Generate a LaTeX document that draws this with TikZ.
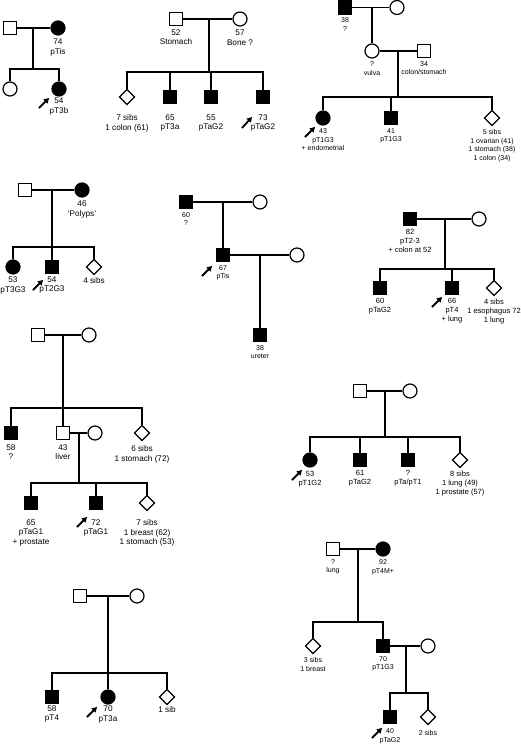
\documentclass[tikz,border=0pt]{standalone}
\usepackage{fontspec}
\setmainfont{Liberation Sans}
\usetikzlibrary{shapes.geometric, arrows.meta, calc}

\begin{document}
\begin{tikzpicture}[
    x=1pt, y=-1pt,
    male/.style={rectangle, draw, line width=1.2pt, fill=white, inner sep=0pt, minimum size=13.5pt},
    female/.style={circle, draw, line width=1.2pt, fill=white, inner sep=0pt, minimum size=14pt},
    sibs/.style={diamond, aspect=1, draw, line width=1.2pt, fill=white, inner sep=0pt, minimum size=15.5pt},
    aff/.style={fill=black},
    lbl/.style={align=center, inner sep=0.5pt, font=\fontsize{8.2}{9.6}\selectfont},
    label distance=2.5pt,
    conn/.style={line width=1.1pt},
    proband/.style={-{Triangle[length=5pt, width=5.5pt]}, line width=1.8pt}
    ]
    \useasboundingbox (0,0) rectangle (520,745);

    % Pedigree 1
    \node[male] (p1f) at (10,28) {};
    \node[female, aff, label={[lbl]below:{74\\pTis}}] (p1w) at (58,28) {};
    \node[female] (p1a) at (10,89) {};
    \node[female, aff, label={[lbl, yshift=2pt]below:{54\\pT3b}}] (p1b) at (59,89) {};
    \coordinate (p1m) at (33,28);
    \coordinate (p1s) at (33,69);
    \draw[conn] (p1f) -- (p1w);
    \draw[conn] (p1m) -- (p1s);
    \draw[conn] (p1a.north) |- (p1s) -| (p1b.north);
    \draw[proband] ($(p1b)+(-20,19)$) -- ++(10,-10);

    % Pedigree 2
    \node[male, label={[lbl]below:{52\\Stomach}}] (p2f) at (176,19) {};
    \node[female, label={[lbl]below:{57\\Bone ?}}] (p2w) at (240,19) {};
    \node[sibs, label={[lbl, yshift=-6pt]below:{7 sibs\\1 colon (61)}}] (p2a) at (127,97) {};
    \node[male, aff, label={[lbl, yshift=-7pt]below:{65\\pT3a}}] (p2b) at (170,97) {};
    \node[male, aff, label={[lbl, yshift=-7pt]below:{55\\pTaG2}}] (p2c) at (211,97) {};
    \node[male, aff, label={[lbl, yshift=-7pt]below:{73\\pTaG2}}] (p2d) at (263,97) {};
    \coordinate (p2m) at (209,19);
    \coordinate (p2s) at (209,72);
    \draw[conn] (p2f) -- (p2w);
    \draw[conn] (p2m) -- (p2s);
    \draw[conn] (p2a.north) |- (p2s) -| (p2d.north);
    \foreach \kid in {p2b, p2c} {
        \draw[conn] (\kid.north) -- (\kid.north |- p2s);
      }
    \draw[proband] ($(p2d)+(-21,31)$) -- ++(10,-11);

    % Pedigree 3
    \begin{scope}[lbl/.append style={font=\fontsize{7}{8.5}\selectfont}]
      \node[male, aff, label={[lbl]below:{38\\?}}] (p3f) at (345,7.5) {};
      \node[female] (p3w) at (397,7.5) {};
      \node[female, label={[lbl]below:{?\\vulva}}] (p3v) at (372,51) {};
      \node[male, label={[lbl]below:{34\\colon/stomach}}] (p3h) at (424,51) {};
      \node[female, aff, label={[lbl]below:{43\\pT1G3\\+ endometrial}}] (p3a) at (323,118) {};
      \node[male, aff, label={[lbl]below:{41\\pT1G3}}] (p3b) at (391,118) {};
      \node[sibs, label={[lbl]below:{5 sibs\\1 ovarian (41)\\1 stomach (38)\\1 colon (34)}}] (p3c) at (492,118) {};
      \coordinate (p3m) at (372,7.5);
      \coordinate (p3n) at (398,51);
      \coordinate (p3s) at (398,97);
      \draw[conn] (p3f) -- (p3w);
      \draw[conn] (p3m) -- (p3v);
      \draw[conn] (p3v) -- (p3h);
      \draw[conn] (p3n) -- (p3s);
      \draw[conn] (p3a.north) |- (p3s) -| (p3c.north);
      \draw[conn] (p3b.north) -- (p3b.north |- p3s);
      \draw[proband] ($(p3a)+(-18,19)$) -- ++(10,-10);
    \end{scope}

    % Pedigree 4
    \node[male] (p4f) at (25,190) {};
    \node[female, aff, label={[lbl]below:{46\\`Polyps'}}] (p4w) at (82,190) {};
    \node[female, aff, label={[lbl, yshift=1pt]below:{53\\pT3G3}}] (p4a) at (13,267) {};
    \node[male, aff, label={[lbl, yshift=1pt]below:{54\\pT2G3}}] (p4b) at (52,267) {};
    \node[sibs, label={[lbl, yshift=1pt]below:{4 sibs}}] (p4c) at (94,267) {};
    \coordinate (p4m) at (52,190);
    \coordinate (p4s) at (52,247);
    \draw[conn] (p4f) -- (p4w);
    \draw[conn] (p4m) -- (p4s);
    \draw[conn] (p4a.north) |- (p4s) -| (p4c.north);
    \draw[conn] (p4b.north) -- (p4b.north |- p4s);
    \draw[proband] ($(p4b)+(-19,23)$) -- ++(10,-10);

    % Pedigree 5
    \begin{scope}[lbl/.append style={font=\fontsize{7}{8.5}\selectfont}]
      \node[male, aff, label={[lbl]below:{60\\?}}] (p5f) at (186,202) {};
      \node[female] (p5w) at (260,202) {};
      \node[male, aff, label={[lbl]below:{67\\pTis}}] (p5p) at (223,255) {};
      \node[female] (p5x) at (297,255) {};
      \node[male, aff, label={[lbl]below:{38\\ureter}}] (p5c) at (260,335) {};
      \coordinate (p5m) at (223,202);
      \coordinate (p5n) at (260,255);
      \draw[conn] (p5f) -- (p5w);
      \draw[conn] (p5m) -- (p5p);
      \draw[conn] (p5p) -- (p5x);
      \draw[conn] (p5n) -- (p5c);
      \draw[proband] ($(p5p)+(-21,21)$) -- ++(10,-10);
    \end{scope}

    % Pedigree 6
    \begin{scope}[lbl/.append style={font=\fontsize{7.5}{9}\selectfont}]
      \node[male, aff, label={[lbl]below:{82\\pT2-3\\+ colon at 52}}] (p6f) at (410,219) {};
      \node[female] (p6w) at (479,219) {};
      \node[male, aff, label={[lbl]below:{60\\pTaG2}}] (p6a) at (380,288) {};
      \node[male, aff, label={[lbl]below:{66\\pT4\\+ lung}}] (p6b) at (452,288) {};
      \node[sibs, label={[lbl]below:{4 sibs\\1 esophagus 72\\1 lung}}] (p6c) at (494,288) {};
      \coordinate (p6m) at (445,219);
      \coordinate (p6s) at (445,269);
      \draw[conn] (p6f) -- (p6w);
      \draw[conn] (p6m) -- (p6s);
      \draw[conn] (p6a.north) |- (p6s) -| (p6c.north);
      \draw[conn] (p6b.north) -- (p6b.north |- p6s);
      \draw[proband] ($(p6b)+(-20,19)$) -- ++(10,-10);
    \end{scope}

    % Pedigree 7
    \node[male] (p7f) at (38,335) {};
    \node[female] (p7w) at (89,335) {};
    \node[male, aff, label={[lbl, yshift=-1pt]below:{58\\?}}] (p7a) at (11,433) {};
    \node[male, label={[lbl, yshift=-1pt]below:{43\\liver}}] (p7b) at (63,433) {};
    \node[female] (p7x) at (95,433) {};
    \node[sibs, label={[lbl, yshift=-1pt]below:{6 sibs\\1 stomach (72)}}] (p7c) at (142,433) {};
    \node[male, aff, label={[lbl, yshift=-6pt]below:{65\\pTaG1\\+ prostate}}] (p7d) at (31,503) {};
    \node[male, aff, label={[lbl, yshift=-6pt]below:{72\\pTaG1}}] (p7e) at (96,503) {};
    \node[sibs, label={[lbl, yshift=-5pt]below:{7 sibs\\1 breast (62)\\1 stomach (53)}}] (p7g) at (147,503) {};
    \coordinate (p7m) at (63,335);
    \coordinate (p7s) at (63,408);
    \coordinate (p7n) at (79,433);
    \coordinate (p7t) at (79,483);
    \draw[conn] (p7f) -- (p7w);
    \draw[conn] (p7m) -- (p7s);
    \draw[conn] (p7a.north) |- (p7s) -| (p7c.north);
    \draw[conn] (p7b.north) -- (p7b.north |- p7s);
    \draw[conn] (p7b) -- (p7x);
    \draw[conn] (p7n) -- (p7t);
    \draw[conn] (p7d.north) |- (p7t) -| (p7g.north);
    \draw[conn] (p7e.north) -- (p7e.north |- p7t);
    \draw[proband] ($(p7e)+(-19,24)$) -- ++(10,-10);

    % Pedigree 8
    \begin{scope}[lbl/.append style={font=\fontsize{7.5}{9}\selectfont}]
      \node[male] (p8f) at (360,391) {};
      \node[female] (p8w) at (410,391) {};
      \node[female, aff, label={[lbl]below:{53\\pT1G2}}] (p8a) at (310,460) {};
      \node[male, aff, label={[lbl]below:{61\\pTaG2}}] (p8b) at (360,460) {};
      \node[male, aff, label={[lbl]below:{?\\pTa/pT1}}] (p8c) at (408,460) {};
      \node[sibs, label={[lbl]below:{8 sibs\\1 lung (49)\\1 prostate (57)}}] (p8d) at (460,460) {};
      \coordinate (p8m) at (385,391);
      \coordinate (p8s) at (385,437);
      \draw[conn] (p8f) -- (p8w);
      \draw[conn] (p8m) -- (p8s);
      \draw[conn] (p8a.north) |- (p8s) -| (p8d.north);
      \foreach \kid in {p8b, p8c} {
          \draw[conn] (\kid.north) -- (\kid.north |- p8s);
        }
      \draw[proband] ($(p8a)+(-18,20)$) -- ++(10,-10);
    \end{scope}

    % Pedigree 9
    \begin{scope}[lbl/.append style={font=\fontsize{7}{8.5}\selectfont}]
      \node[male, label={[lbl]below:{?\\lung}}] (p9f) at (333,549) {};
      \node[female, aff, label={[lbl]below:{92\\pT4M+}}] (p9w) at (383,549) {};
      \node[sibs, label={[lbl]below:{3 sibs\\1 breast}}] (p9a) at (313,646) {};
      \node[male, aff, label={[lbl]below:{70\\pT1G3}}] (p9b) at (383,646) {};
      \node[female] (p9x) at (428,646) {};
      \node[male, aff, label={[lbl, yshift=-1.5pt]below:{40\\pTaG2}}] (p9c) at (390,717) {};
      \node[sibs, label={[lbl, yshift=-1.5pt]below:{2 sibs}}] (p9d) at (428,717) {};
      \coordinate (p9m) at (358,549);
      \coordinate (p9s) at (358,622);
      \coordinate (p9n) at (406,646);
      \coordinate (p9t) at (406,693);
      \draw[conn] (p9f) -- (p9w);
      \draw[conn] (p9m) -- (p9s);
      \draw[conn] (p9a.north) |- (p9s) -| (p9b.north);
      \draw[conn] (p9b) -- (p9x);
      \draw[conn] (p9n) -- (p9t);
      \draw[conn] (p9c.north) |- (p9t) -| (p9d.north);
      \draw[proband] ($(p9c)+(-18,21)$) -- ++(10,-10);
    \end{scope}

    % Pedigree 10
    \node[male] (p10f) at (80,596) {};
    \node[female] (p10w) at (137,596) {};
    \node[male, aff, label={[lbl, yshift=2pt]below:{58\\pT4}}] (p10a) at (52,697) {};
    \node[female, aff, label={[lbl, yshift=2pt]below:{70\\pT3a}}] (p10b) at (108,697) {};
    \node[sibs, label={[lbl, yshift=2pt]below:{1 sib}}] (p10c) at (167,697) {};
    \coordinate (p10m) at (108,596);
    \coordinate (p10s) at (108,673);
    \draw[conn] (p10f) -- (p10w);
    \draw[conn] (p10m) -- (p10s);
    \draw[conn] (p10a.north) |- (p10s) -| (p10c.north);
    \draw[conn] (p10b.north) -- (p10b.north |- p10s);
    \draw[proband] ($(p10b)+(-21,20)$) -- ++(10,-10);
  \end{tikzpicture}
\end{document}
